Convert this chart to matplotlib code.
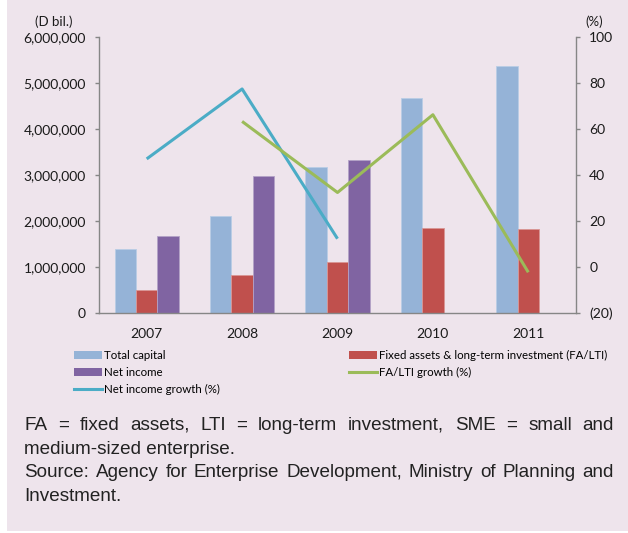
import matplotlib
matplotlib.use("Agg")
import matplotlib.pyplot as plt
import numpy as np
from matplotlib.patches import Rectangle, Patch
from matplotlib.lines import Line2D
from matplotlib.ticker import FuncFormatter

years = ["2007", "2008", "2009", "2010", "2011"]
total_capital = [1390000, 2100000, 3170000, 4670000, 5360000]
fa_lti = [507000, 833000, 1115000, 1855000, 1818000]
net_income = [1666000, 2970000, 3333000, np.nan, np.nan]
net_income_growth = [47.0, 77.4, 12.3, np.nan, np.nan]
fa_lti_growth = [np.nan, 63.3, 32.4, 66.2, -2.3]

left_ticks = [0, 1000000, 2000000, 3000000, 4000000, 5000000, 6000000]
right_ticks = [-20, 0, 20, 40, 60, 80, 100]

caption_lines = [
    "FA = fixed assets, LTI = long-term investment, SME = small and",
    "medium-sized enterprise.",
    "Source: Agency for Enterprise Development, Ministry of Planning and",
    "Investment.",
]
caption_justify = [True, False, True, False]

C_BLUE = "#95B3D7"
C_RED = "#C0504D"
C_PURPLE = "#8064A2"
C_TEAL = "#4BACC6"
C_GREEN = "#9BBB59"
BG = "#EEE4EC"
AXC = "#868686"

W, H = 628, 533
fig = plt.figure(figsize=(W / 100, H / 100), dpi=100, facecolor="white")
fig.patches.append(Rectangle((7 / W, 2 / H), 1 - 7 / W, 1 - 2 / H, transform=fig.transFigure,
                             facecolor=BG, edgecolor="none", zorder=-10))

FONT = "Lato"
plt.rcParams["font.family"] = [FONT, "DejaVu Sans"]

ax_l, ax_r = 99 / W, 576 / W
ax_b, ax_t = 1 - 313 / H, 1 - 37 / H
ax = fig.add_axes([ax_l, ax_b, ax_r - ax_l, ax_t - ax_b])
ax.set_facecolor("none")
ax2 = ax.twinx()
ax2.set_facecolor("none")

x = np.arange(len(years))
bw = 0.224
ax.bar(x - bw, total_capital, bw, color=C_BLUE, edgecolor="#B9CDE5", linewidth=0.6, zorder=2)
ax.bar(x, fa_lti, bw, color=C_RED, edgecolor="#D99694", linewidth=0.6, zorder=2)
ax.bar(x + bw, net_income, bw, color=C_PURPLE, edgecolor="#B3A2C7", linewidth=0.6, zorder=2)

ax.set_xlim(-0.5, len(years) - 0.5)
ax.set_ylim(0, 6000000)
ax.set_yticks(left_ticks)
ax.yaxis.set_major_formatter(FuncFormatter(lambda v, p: f"{int(v):,}"))
ax.set_xticks(x)
ax.set_xticklabels(years)

ax2.plot(x, net_income_growth, color=C_TEAL, lw=2.2, solid_capstyle="butt", zorder=3)
ax2.plot(x, fa_lti_growth, color=C_GREEN, lw=2.2, solid_capstyle="butt", zorder=3)
ax2.set_ylim(-20, 100)
ax2.set_yticks(right_ticks)
ax2.yaxis.set_major_formatter(FuncFormatter(lambda v, p: f"({abs(int(v))})" if v < 0 else f"{int(v)}"))

for a in (ax, ax2):
    for s in a.spines.values():
        s.set_visible(False)
ax.spines["left"].set_visible(True)
ax.spines["bottom"].set_visible(True)
ax2.spines["right"].set_visible(True)
for s in (ax.spines["left"], ax.spines["bottom"], ax2.spines["right"]):
    s.set_color(AXC)
    s.set_linewidth(1.0)

ax.tick_params(axis="y", direction="out", length=3, width=1, color=AXC, pad=6.5,
               labelsize=10, labelcolor="#1a1a1a")
ax.tick_params(axis="x", length=0, pad=11, labelsize=10, labelcolor="#1a1a1a")
ax2.tick_params(axis="y", direction="out", length=3, width=1, color=AXC, pad=6.5,
                labelsize=10, labelcolor="#1a1a1a")

fig.text(54 / W, 1 - 22 / H, "(D bil.)", ha="center", va="center", fontsize=9.5, color="#1a1a1a")
fig.text(594 / W, 1 - 22 / H, "(%)", ha="center", va="center", fontsize=9.5, color="#1a1a1a")

# legends
lfs = 8.3
common = dict(loc="upper left", frameon=False, fontsize=lfs, handlelength=2.45,
              handletextpad=0.15, labelspacing=0.5, borderpad=0, borderaxespad=0)
leg1 = fig.legend(handles=[Patch(facecolor=C_BLUE, edgecolor="none"),
                           Patch(facecolor=C_PURPLE, edgecolor="none"),
                           Line2D([], [], color=C_TEAL, lw=2.2)],
                  labels=["Total capital", "Net income", "Net income growth (%)"],
                  bbox_to_anchor=(74 / W, 1 - 350 / H), **common)
leg2 = fig.legend(handles=[Patch(facecolor=C_RED, edgecolor="none"),
                           Line2D([], [], color=C_GREEN, lw=2.2)],
                  labels=["Fixed assets & long-term investment (FA/LTI)", "FA/LTI growth (%)"],
                  bbox_to_anchor=(349 / W, 1 - 350 / H), **common)

# caption with justification
cap_font = ["Liberation Sans Narrow", "Liberation Sans", "DejaVu Sans"]
cap_size = 13.6
cap_left, cap_right = 24, 614
line_base = [430, 454, 477, 501]
fig.canvas.draw()
renderer = fig.canvas.get_renderer()
for line, just, yy in zip(caption_lines, caption_justify, line_base):
    yf = 1 - yy / H
    if not just:
        fig.text(cap_left / W, yf, line, ha="left", va="baseline", fontsize=cap_size,
                 family=cap_font, color="#222222")
        continue
    words = line.split(" ")
    texts = [fig.text(0, yf, w_, ha="left", va="baseline", fontsize=cap_size,
                      family=cap_font, color="#222222") for w_ in words]
    widths = [t.get_window_extent(renderer).width for t in texts]
    gap = (cap_right - cap_left - sum(widths)) / (len(words) - 1)
    cx = cap_left
    for t, wd in zip(texts, widths):
        t.set_x(cx / W)
        cx += wd + gap

fig.savefig("out.png", dpi=100, facecolor=fig.get_facecolor())
